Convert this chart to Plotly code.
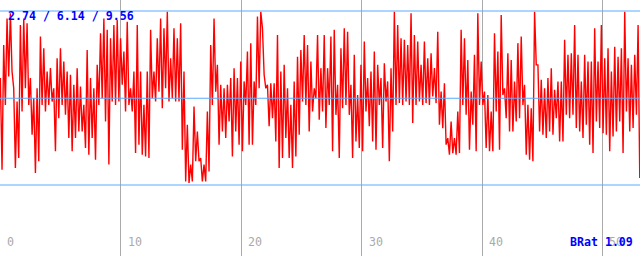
import numpy as np
import plotly.graph_objects as go

seg1 = [6.93, 3.34, 8.23, 5.88, 9.27, 6.99, 9.47, 7.19, 6.53, 3.41, 6.01, 3.80,
        9.01, 5.62, 9.27, 6.53, 9.08, 5.88, 6.93, 4.71, 6.14, 3.21, 6.53, 3.67,
        8.56, 5.88, 8.10, 5.62, 7.19, 5.88, 7.32, 6.01, 6.53, 4.06, 7.71, 5.36,
        8.10, 5.88, 7.58, 5.49, 7.19, 4.58, 7.06, 4.06, 6.67, 4.58, 7.32, 4.84]
seg2 = [6.60, 4.84, 5.88, 4.19, 8.03, 3.93, 6.93, 4.58, 6.53, 3.73, 7.45, 5.88,
        8.69, 6.14, 9.27, 5.23, 8.82, 3.54, 8.49, 6.01, 9.01, 5.88, 9.21, 6.01,
        8.49, 6.67, 7.97, 5.62, 9.14, 5.88, 6.53, 5.62, 7.19, 3.99, 9.01, 4.32,
        7.19, 3.93, 5.88, 3.86, 7.19, 3.80, 8.82, 6.14, 7.19, 6.01, 8.49, 6.40]
seg3 = [9.27, 5.75, 8.88, 6.53, 9.53, 6.01, 7.71, 6.14, 8.88, 6.01, 8.49, 6.01,
        9.08, 4.12, 7.19, 2.88, 5.10, 2.82, 3.54, 2.88, 5.82, 3.67, 4.84, 3.67,
        3.80, 2.88, 3.54, 2.88, 5.62, 3.27, 8.23, 5.88, 9.27, 6.40, 7.45, 4.32,
        6.67, 4.84, 6.53, 4.58, 6.67, 5.23, 6.93, 3.86, 7.32, 4.84, 6.93, 4.32]
seg4 = [7.58, 4.06, 6.80, 5.88, 7.97, 4.32, 8.30, 4.32, 6.80, 5.88, 9.34, 6.53,
        9.53, 8.88, 7.06, 6.53, 6.67, 5.04, 6.73, 5.36, 6.73, 4.45, 8.62, 3.41,
        7.19, 3.80, 7.45, 4.58, 6.53, 3.80, 5.88, 3.41, 6.80, 3.86, 7.77, 4.71,
        8.03, 6.01, 8.62, 5.88, 8.23, 4.84, 7.58, 5.62, 6.53, 6.14, 8.62, 5.30]
seg5 = [7.32, 5.62, 8.62, 4.97, 7.32, 5.88, 8.56, 4.06, 8.82, 5.49, 6.67, 3.80,
        8.10, 5.75, 8.88, 5.88, 8.75, 5.49, 6.67, 3.80, 7.84, 4.45, 6.27, 4.19,
        7.45, 4.06, 8.36, 5.62, 6.93, 5.04, 7.19, 4.45, 7.97, 4.12, 7.45, 5.88,
        6.93, 4.19, 7.51, 6.01, 6.80, 3.67, 7.32, 4.84, 9.53, 5.88, 9.01, 5.95]
seg6 = [8.49, 5.88, 8.43, 6.01, 8.23, 5.88, 9.47, 5.17, 8.62, 5.88, 8.36, 6.01,
        7.45, 5.88, 8.36, 5.95, 7.71, 5.88, 7.90, 6.21, 7.32, 5.95, 8.75, 5.10,
        6.40, 4.97, 6.73, 4.32, 4.58, 3.93, 5.23, 3.99, 4.58, 3.93, 5.62, 3.99,
        8.82, 5.88, 8.49, 5.49, 7.64, 4.12, 6.40, 5.10, 7.84, 4.06, 9.47, 5.88]
seg7 = [7.58, 5.88, 6.40, 4.19, 6.27, 4.06, 5.62, 4.06, 8.69, 5.62, 7.97, 4.12,
        9.40, 6.27, 6.53, 5.36, 7.90, 4.84, 7.64, 4.84, 6.80, 5.23, 8.30, 5.36,
        8.56, 5.88, 6.67, 3.93, 5.88, 3.73, 5.75, 3.67, 9.53, 7.45, 7.45, 4.84,
        6.86, 4.71, 6.53, 4.58, 6.93, 4.84, 7.32, 4.71, 6.47, 5.36, 6.80, 4.45]
seg8 = [6.80, 4.45, 8.43, 5.49, 7.84, 5.36, 7.90, 5.49, 9.01, 4.97, 7.84, 4.84,
        6.80, 4.58, 7.84, 5.10, 7.58, 4.32, 7.58, 3.99, 8.88, 5.23, 7.58, 4.97,
        9.01, 4.77, 7.71, 4.71, 8.10, 4.06, 7.19, 4.64, 8.16, 4.84, 7.77, 5.23,
        8.10, 3.99, 9.53, 5.62, 7.71, 4.84, 7.45, 4.97, 7.84, 5.49, 9.01, 3.01]

values = seg1 + seg2 + seg3 + seg4 + seg5 + seg6 + seg7 + seg8
x_end = 53.1
xs = np.linspace(0, x_end, len(values))

stat_lines = [2.74, 6.14, 9.56]
stats_text = "2.74 / 6.14 / 9.56"
ratio_text = "BRat 1.09"
x_ticks = [0, 10, 20, 30, 40, 50]
x_tick_labels = ["0", "10", "20", "30", "40", "50"]

W, H = 640, 256
fig = go.Figure()
fig.add_trace(go.Scatter(x=xs, y=values, mode="lines",
                         line=dict(color="#ff0000", width=1.4), hoverinfo="skip"))

for v in stat_lines:
    fig.add_shape(type="line", xref="paper", yref="y", x0=0, x1=1, y0=v, y1=v,
                  line=dict(color="#5aaaff", width=1), layer="above")

mono = "DejaVu Sans Mono"
annotations = []
for t, lab in zip(x_ticks, x_tick_labels):
    annotations.append(dict(x=t, xref="x", y=1 - 241.5 / H, yref="paper",
                            text=lab, showarrow=False, xanchor="left", yanchor="middle",
                            xshift=5, font=dict(family=mono, size=11.6, color="#aaaaaa")))
annotations.append(dict(x=6 / W, xref="paper", y=1 - 16 / H, yref="paper",
                        text="<b>" + stats_text + "</b>", showarrow=False,
                        xanchor="left", yanchor="middle",
                        font=dict(family=mono, size=11.6, color="#0000ff")))
annotations.append(dict(x=568 / W, xref="paper", y=1 - 241.5 / H, yref="paper",
                        text="<b>" + ratio_text + "</b>", showarrow=False,
                        xanchor="left", yanchor="middle",
                        font=dict(family=mono, size=11.6, color="#0000ff")))

fig.update_layout(
    width=W, height=H, autosize=False,
    margin=dict(l=0, r=0, t=0, b=0, pad=0),
    paper_bgcolor="white", plot_bgcolor="white",
    showlegend=False,
    annotations=annotations,
    xaxis=dict(range=[-0.03, 53.12], tickvals=x_ticks, showticklabels=False,
               showgrid=True, gridcolor="#aaaaaa", gridwidth=1, zeroline=False,
               showline=False, ticks="", fixedrange=True),
    yaxis=dict(range=[-0.043, 9.991], showticklabels=False, showgrid=False,
               zeroline=False, showline=False, ticks="", fixedrange=True),
)

fig.write_html("out.html", config={"displayModeBar": False})
